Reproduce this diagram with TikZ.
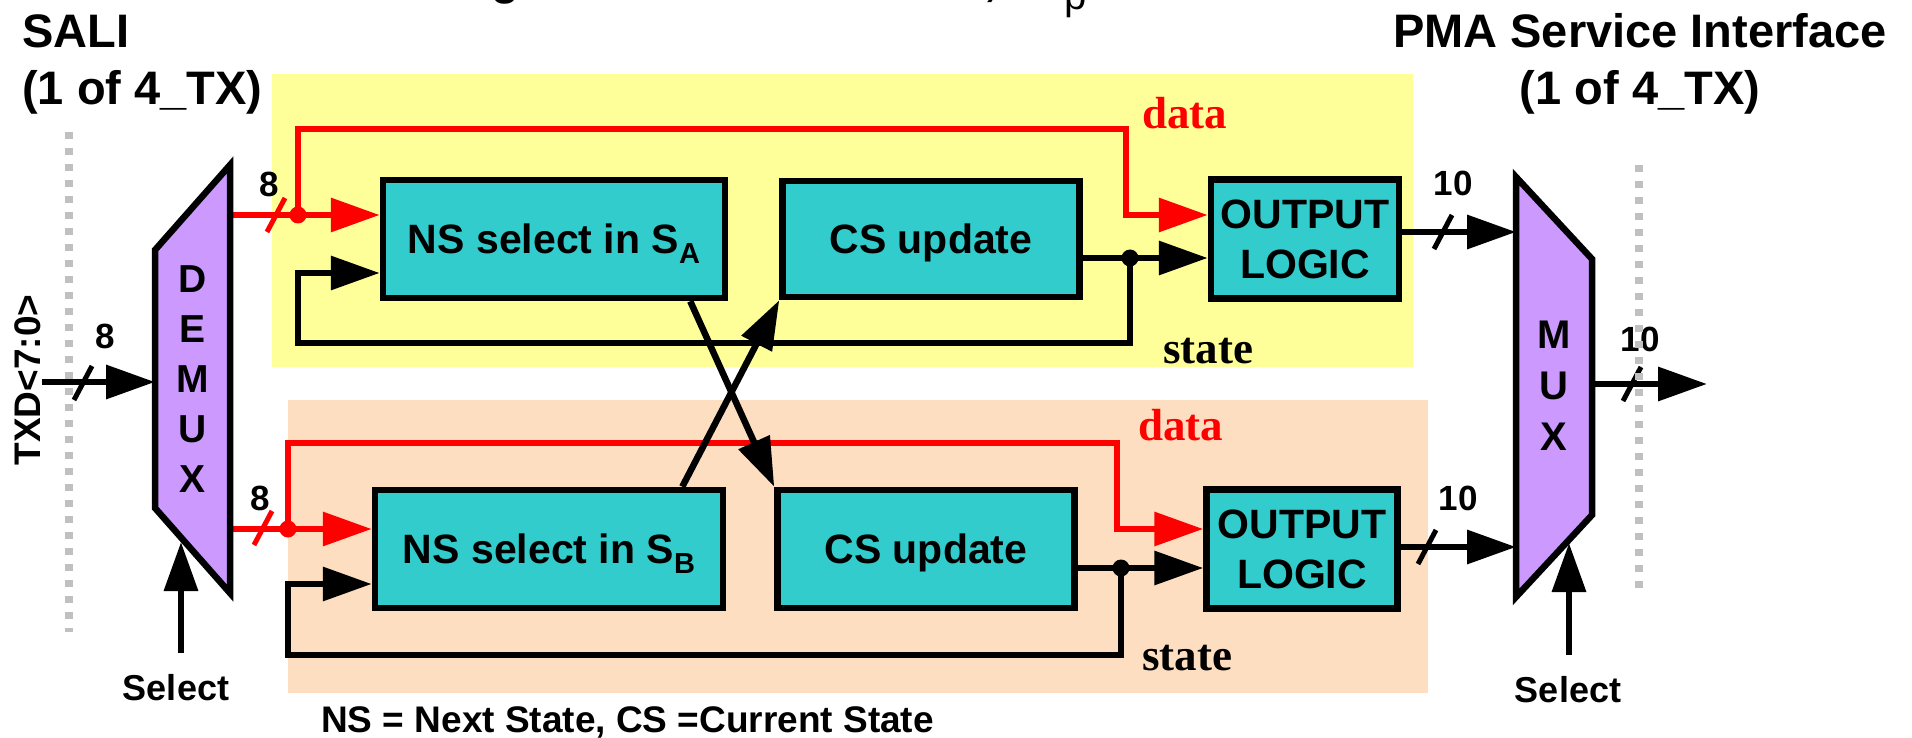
\documentclass[tikz,border=0pt]{standalone}
\usepackage{fontspec}
\setmainfont{Liberation Sans}
\newfontfamily\seriffont{Liberation Serif}
\usetikzlibrary{arrows.meta,calc}

\definecolor{padyellow}{RGB}{255,255,153}
\definecolor{padpeach}{RGB}{254,222,192}
\definecolor{blockteal}{RGB}{51,204,204}
\definecolor{muxpurple}{RGB}{204,153,255}
\definecolor{railgray}{RGB}{192,192,192}

\newcommand\setfs[1]{\fontsize{#1}{#1}\selectfont}
\newcommand\idx[1]{\raisebox{-0.25em}{\setfs{29}#1}}

\pgfdeclarelayer{pads}
\pgfdeclarelayer{wires}
\pgfsetlayers{pads,wires,main}

\begin{document}
\begin{tikzpicture}[x=1pt,y=-1pt,
  wire/.style={line width=6.5pt, line join=miter},
  redwire/.style={wire, red},
  arr/.style={-{Triangle[length=49pt 0 0,width=33pt 0 0]}},
  block/.style={draw, line width=6.5pt, fill=blockteal, inner sep=0pt,
                font=\bfseries\setfs{41}},
  capline/.style={text height=29pt, text depth=0pt},
  shapeline/.style={draw, line width=6.5pt, line join=miter, fill=muxpurple},
  stack/.style={align=center, inner sep=0pt},
  lbl/.style={font=\bfseries\setfs{35}, inner sep=0pt, anchor=base},
  hdr/.style={font=\bfseries\setfs{47}, inner sep=0pt},
  sellbl/.style={font=\bfseries\setfs{36}, inner sep=0pt, anchor=base},
  fsmlbl/.style={font=\seriffont\bfseries\setfs{45}, inner sep=0pt, anchor=base west},
  jdot/.style={circle, fill, inner sep=0pt, minimum size=17pt},
  rail/.style={railgray, line width=8pt, dash pattern=on 7pt off 9pt},
  buswidth/.pic={\draw[line width=5pt] (-9,17) -- (9,-17);}
]
\useasboundingbox (0,0) rectangle (1912,738);

% background pads for the two state machines
\begin{pgfonlayer}{pads}
  \fill[white] (0,0) rectangle (1912,738);
  \fill[padyellow] (272,74) rectangle (1413,367);
  \fill[padpeach] (288,400) rectangle (1428,693);
\end{pgfonlayer}

% title line (mostly above the page edge)
\node[font=\bfseries\setfs{46}, anchor=base, inner sep=0pt] (ttlg) at (506,-5) {g};
\node[font=\bfseries\setfs{46}, anchor=base, inner sep=0pt] (ttlc) at (991,-4) {,};
\node[font=\setfs{40}, anchor=base, inner sep=0pt] (ttlp) at (1076,10) {p};

% headers
\node[hdr, anchor=base west] (sali) at (22,48) {SALI};
\node[hdr, anchor=base west] (salin) at (22,105) {(1 of 4\_TX)};
\node[hdr, anchor=base] (pma) at (1640,48) {PMA Service Interface};
\node[hdr, anchor=base] (pman) at (1640,105) {(1 of 4\_TX)};

% demultiplexer
\draw[shapeline] (230,165) -- (230,593) -- (155,508) -- (155,250) -- cycle;
\node[stack, font=\bfseries\fontsize{39}{50}\selectfont] (demux) at (193,379) {D\\E\\M\\U\\X};
\coordinate (dmxin) at (155,382);
\coordinate (dmxA) at (230,215);
\coordinate (dmxB) at (230,529);
\coordinate (dmxsel) at (181,542);

% multiplexer
\draw[shapeline] (1516,177) -- (1592,259) -- (1592,515) -- (1516,597) -- cycle;
\node[stack, font=\bfseries\fontsize{40}{51}\selectfont] (mux) at (1554,386) {M\\U\\X};
\coordinate (muxA) at (1516,232);
\coordinate (muxB) at (1516,547);
\coordinate (muxout) at (1592,384);
\coordinate (muxsel) at (1569,543);

% free ends
\coordinate (txdsrc) at (42,382);
\coordinate (selL) at (181,653);
\coordinate (selR) at (1569,655);
\coordinate (pmaout) at (1707,384);

% state machine A
\node[block, capline, minimum width=342pt, minimum height=118pt] (nsA) at (554,239) {NS select in S\idx{A}};
\node[block, capline, minimum width=297pt, minimum height=116pt] (csA) at (931,239) {CS update};
\node[block, align=center, font=\bfseries\fontsize{41}{50}\selectfont,
      minimum width=188pt, minimum height=119pt] (outA) at (1305,239) {OUTPUT\\LOGIC};

% state machine B
\node[block, capline, minimum width=348pt, minimum height=118pt] (nsB) at (549,549) {NS select in S\idx{B}};
\node[block, capline, minimum width=297pt, minimum height=118pt] (csB) at (926,549) {CS update};
\node[block, align=center, font=\bfseries\fontsize{41}{50}\selectfont,
      minimum width=191pt, minimum height=119pt] (outB) at (1302,549) {OUTPUT\\LOGIC};

% taps and junctions
\node[jdot, red] (tapA) at (298,215) {};
\node[jdot, red] (tapB) at (288,529) {};
\node[jdot] (jA) at (1130,258) {};
\node[jdot] (jB) at (1121,568) {};
\coordinate (rcA) at (1126,129);
\coordinate (rcB) at (1117,443);
\coordinate (lpA) at (298,343);
\coordinate (fbA) at (298,273);
\coordinate (lpB) at (288,655);
\coordinate (fbB) at (288,584);
\coordinate (xA) at ($(nsA.south east)+(-38,0)$);
\coordinate (xB) at ($(nsB.north east)+(-44,0)$);

\begin{pgfonlayer}{wires}
  % data paths
  \draw[redwire, arr] (dmxA) -- (dmxA -| nsA.west);
  \draw[redwire, arr] (tapA.center) |- (rcA) |- (dmxA -| outA.west);
  \draw[redwire, arr] (dmxB) -- (dmxB -| nsB.west);
  \draw[redwire, arr] (tapB.center) |- (rcB) |- (dmxB -| outB.west);
  % state paths
  \draw[wire, arr] (csA.east |- jA) -- (jA -| outA.west);
  \draw[wire, arr] (jA.center) |- (lpA) -- (fbA) -- (fbA -| nsA.west);
  \draw[wire, arr] (csB.east |- jB) -- (jB -| outB.west);
  \draw[wire, arr] (jB.center) |- (lpB) -- (fbB) -- (fbB -| nsB.west);
  % cross-coupled next state
  \draw[wire, arr] (xA) -- (csB.north west);
  \draw[wire, arr] (xB) -- (csA.south west);
  % interface arrows
  \draw[wire, arr] (txdsrc) -- (dmxin);
  \draw[wire, arr] (selL) -- (dmxsel);
  \draw[wire, arr] (selR) -- (muxsel);
  \draw[wire, arr] (outA.east |- muxA) -- (muxA);
  \draw[wire, arr] (outB.east |- muxB) -- (muxB);
  \draw[wire, arr] (muxout) -- (pmaout);
\end{pgfonlayer}

% bus width marks
\pic[red] at (276,215) {buswidth};
\pic[red] at (263,528) {buswidth};
\pic at (83,383) {buswidth};
\pic at (1443,232) {buswidth};
\pic at (1427,547) {buswidth};
\pic at (1632,384) {buswidth};

% bus width labels
\node[lbl] (w8A) at (269,197) {8};
\node[lbl] (w8B) at (260,510) {8};
\node[lbl] (w8in) at (105,348) {8};
\node[lbl] (w10A) at (1453,196) {10};
\node[lbl] (w10B) at (1458,510) {10};
\node[lbl] (w10out) at (1640,351) {10};

% signal names
\node[rotate=90, font=\bfseries\setfs{37}, text height=26.5pt, text depth=0pt, inner sep=0pt] (txd) at (27,380) {TXD<7:0>};
\node[sellbl] (selLtxt) at (176,700) {Select};
\node[sellbl] (selRtxt) at (1568,702) {Select};
\node[fsmlbl, red] (dataA) at (1142,129) {data};
\node[fsmlbl] (stateA) at (1163,363) {state};
\node[fsmlbl, red] (dataB) at (1138,440) {data};
\node[fsmlbl] (stateB) at (1142,670) {state};

% legend
\node[font=\bfseries\setfs{37}, anchor=base west, inner sep=0pt] (legend) at (321,732) {NS = Next State, CS =Current State};

% sublayer boundaries
\draw[rail] (69,132) -- (69,632);
\draw[rail] (1639,165) -- (1639,590);
\end{tikzpicture}
\end{document}
